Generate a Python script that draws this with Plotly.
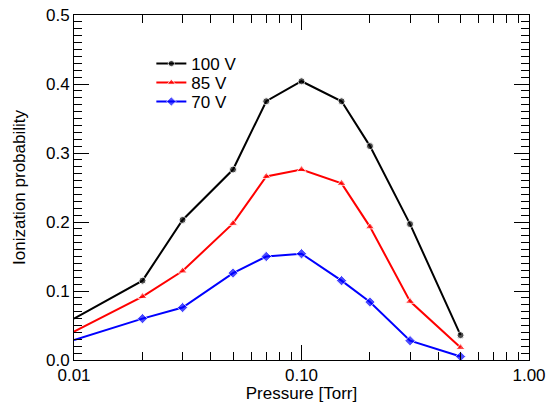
import plotly.graph_objects as go

pressure = [0.01, 0.02, 0.03, 0.05, 0.07, 0.10, 0.15, 0.20, 0.30, 0.50]
v100 = [0.060, 0.115, 0.203, 0.276, 0.375, 0.404, 0.375, 0.310, 0.197, 0.036]
v85 = [0.041, 0.092, 0.129, 0.198, 0.266, 0.276, 0.256, 0.193, 0.085, 0.018]
v70 = [0.029, 0.060, 0.076, 0.126, 0.150, 0.154, 0.115, 0.084, 0.028, 0.005]
series_names = ["100 V", "85 V", "70 V"]
x_tick_vals = [0.01, 0.1, 1.0]
x_tick_text = ["0.01", "0.10", "1.00"]
x_minor_vals = [0.02, 0.03, 0.04, 0.05, 0.06, 0.07, 0.08, 0.09,
                0.2, 0.3, 0.4, 0.5, 0.6, 0.7, 0.8, 0.9]

FONT = "Liberation Sans, Arial, Helvetica, sans-serif"

styles = [
    dict(color="#000000", symbol="circle", size=7, legend="legend", ly=0.858),
    dict(color="#ff0000", symbol="triangle-up", size=8, legend="legend2", ly=0.803),
    dict(color="#0000ff", symbol="diamond", size=8, legend="legend3", ly=0.748),
]

fig = go.Figure()
for name, vals, st in zip(series_names, [v100, v85, v70], styles):
    sizes = [0] + [st["size"]] * (len(vals) - 1)
    fig.add_trace(go.Scatter(
        x=pressure, y=vals, name=name, mode="lines+markers",
        line=dict(color=st["color"], width=2),
        marker=dict(color=st["color"], symbol=st["symbol"], size=sizes),
        legend=st["legend"],
    ))

axis_common = dict(
    showline=True, linecolor="black", linewidth=1, mirror="ticks",
    ticks="inside", tickcolor="black", tickwidth=1, ticklen=15,
    showgrid=False, zeroline=False, automargin=False,
    tickfont=dict(family=FONT, size=17, color="black"),
)

fig.update_xaxes(
    type="log", range=[-2, 0],
    tickmode="array", tickvals=x_tick_vals, ticktext=x_tick_text,
    minor=dict(tickmode="array", tickvals=x_minor_vals, ticks="inside",
               ticklen=8, tickcolor="black", tickwidth=1),
    title=dict(text="Pressure [Torr]", font=dict(family=FONT, size=17, color="black"), standoff=2),
    **axis_common,
)
fig.update_yaxes(
    range=[0, 0.5], tickmode="linear", tick0=0, dtick=0.1, tickformat=".1f",
    minor=dict(dtick=0.01, ticks="inside", ticklen=8, tickcolor="black", tickwidth=1),
    title=dict(text="Ionization probability", font=dict(family=FONT, size=17, color="black"), standoff=16),
    **axis_common,
)

legend_common = dict(x=0.17, xanchor="left", yanchor="middle",
                     bgcolor="rgba(0,0,0,0)", font=dict(family=FONT, size=17))

fig.update_layout(
    width=553, height=403,
    margin=dict(l=74, r=24, t=15, b=43, autoexpand=False),
    plot_bgcolor="white", paper_bgcolor="white",
    font=dict(family=FONT, size=17, color="black"),
    legend=dict(y=styles[0]["ly"], **legend_common),
    legend2=dict(y=styles[1]["ly"], **legend_common),
    legend3=dict(y=styles[2]["ly"], **legend_common),
    showlegend=True,
)

fig.write_html("out.html")
